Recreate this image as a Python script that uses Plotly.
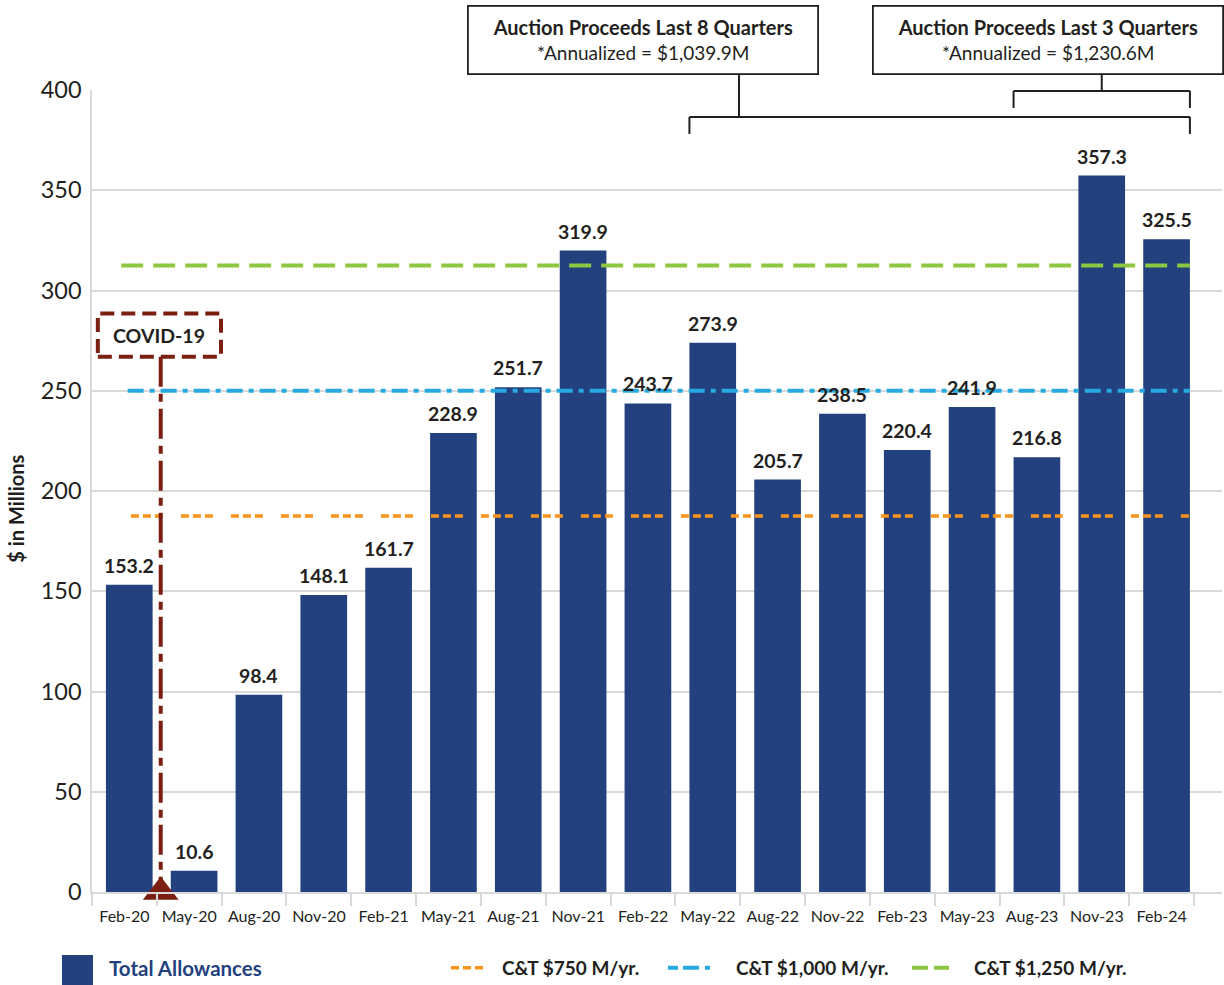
import plotly.graph_objects as go

# Quarterly auction proceeds ($ millions)
quarters = ["Feb-20", "May-20", "Aug-20", "Nov-20", "Feb-21", "May-21", "Aug-21", "Nov-21",
            "Feb-22", "May-22", "Aug-22", "Nov-22", "Feb-23", "May-23", "Aug-23", "Nov-23", "Feb-24"]
proceeds = [153.2, 10.6, 98.4, 148.1, 161.7, 228.9, 251.7, 319.9,
            243.7, 273.9, 205.7, 238.5, 220.4, 241.9, 216.8, 357.3, 325.5]

# Cap-and-trade annual benchmarks, shown as quarterly equivalents
target_labels = ["C&T $750 M/yr.", "C&T $1,000 M/yr.", "C&T $1,250 M/yr."]
annual_targets = [750, 1000, 1250]

y_ticks = [0, 50, 100, 150, 200, 250, 300, 350, 400]

box_titles = ["Auction Proceeds Last 8 Quarters", "Auction Proceeds Last 3 Quarters"]
box_notes = ["*Annualized = $1,039.9M", "*Annualized = $1,230.6M"]
bracket_counts = [8, 3]

FONT = "Lato, 'Open Sans', sans-serif"
INK = "#231f20"
NAVY = "#22417e"
GRID = "#d9d9d9"
COVID_RED = "#7b1f12"
target_colors = ["#f7941d", "#27aae1", "#8dc63f"]
target_dashes = ["8px,4px,8px,4px,8px,18px", "16px,6px,5px,6px", "22px,10px"]
swatch_dashes = ["8px,4px,8px,4px,8px,18px", "10px,5px,16px,6px,5px,20px", "16px,6px"]
target_widths = [3.5, 4, 4]
target_starts = [0.1, 0.05, -0.05]

BAR_W = 0.72
BAR_OFF = -0.285
n = len(quarters)
xs = list(range(n))
bar_right_end = (n - 1) + BAR_OFF + BAR_W

fig = go.Figure()

fig.add_trace(go.Bar(
    x=xs, y=proceeds, width=BAR_W, offset=BAR_OFF,
    marker=dict(color=NAVY, line=dict(width=0)),
    showlegend=False, hoverinfo="skip",
))

for label, val, col, dash, w, x0 in zip(target_labels, annual_targets, target_colors,
                                        target_dashes, target_widths, target_starts):
    q = val / 4
    fig.add_trace(go.Scatter(
        x=[x0, bar_right_end], y=[q, q], mode="lines",
        line=dict(color=col, width=w, dash=dash),
        name=label, showlegend=False, hoverinfo="skip",
    ))

# COVID-19 marker line between Feb-20 and May-20
covid_x = 0.56
covid_box = dict(x0=-0.41, x1=1.49, y0=267, y1=288.5)
fig.add_trace(go.Scatter(
    x=[covid_x, covid_x], y=[covid_box["y0"], 0], mode="lines",
    line=dict(color=COVID_RED, width=4, dash="30px,7px,8px,7px"),
    showlegend=False, hoverinfo="skip",
))
fig.add_trace(go.Scatter(
    x=[covid_x], y=[0], mode="markers",
    marker=dict(symbol="triangle-up", size=31, color=COVID_RED, line=dict(width=0)),
    cliponaxis=False, showlegend=False, hoverinfo="skip",
))

shapes = []
annotations = []

# Value labels above each bar
bar_center_shift = BAR_OFF + BAR_W / 2
for xi, v in zip(xs, proceeds):
    annotations.append(dict(
        x=xi + bar_center_shift, y=v, xref="x", yref="y", yanchor="bottom", yshift=6,
        showarrow=False, text=f"{v:.1f}",
        font=dict(family=FONT, size=19.5, color=INK, weight="bold"),
    ))

shapes.append(dict(type="rect", xref="x", yref="y", **covid_box,
                   line=dict(color=COVID_RED, width=4, dash="14px,7px"),
                   fillcolor="rgba(0,0,0,0)", layer="above"))
annotations.append(dict(x=(covid_box["x0"] + covid_box["x1"]) / 2,
                        y=(covid_box["y0"] + covid_box["y1"]) / 2,
                        xref="x", yref="y", showarrow=False, text="COVID-19",
                        font=dict(family=FONT, size=19.5, color=INK, weight="bold")))

# Brackets above the most recent quarters, with summary boxes
box_centers = [0.4876, 0.8456]
box_bottom = 1.0199
bracket_levels = [0.9664, 0.9988]
bracket_drop = 0.0212
connector_xs = [9.48, None]
line_style = dict(color=INK, width=2)
for title, note, cnt, cx, lvl, conn in zip(box_titles, box_notes, bracket_counts,
                                           box_centers, bracket_levels, connector_xs):
    x0 = (n - cnt) + BAR_OFF
    x1 = bar_right_end
    xc = conn if conn is not None else (x0 + x1) / 2
    shapes += [
        dict(type="line", xref="x", yref="paper", x0=x0, x1=x1, y0=lvl, y1=lvl, line=line_style),
        dict(type="line", xref="x", yref="paper", x0=x0, x1=x0, y0=lvl, y1=lvl - bracket_drop, line=line_style),
        dict(type="line", xref="x", yref="paper", x0=x1, x1=x1, y0=lvl, y1=lvl - bracket_drop, line=line_style),
        dict(type="line", xref="x", yref="paper", x0=xc, x1=xc, y0=box_bottom, y1=lvl, line=line_style),
    ]
    annotations.append(dict(
        xref="paper", yref="paper", x=cx, y=1.0623, xanchor="center", yanchor="middle",
        showarrow=False, width=346, height=64, align="center",
        bordercolor=INK, borderwidth=1.8, borderpad=1, bgcolor="white",
        text=f"<b><span style='font-size:20px'>{title}</span></b><br>{note}",
        font=dict(family=FONT, size=19, color=INK),
    ))

# Legend row
legend_y = -0.0946
shapes.append(dict(type="rect", xref="paper", yref="paper", x0=-0.0266, x1=0.0009,
                   y0=-0.0785, y1=-0.12, fillcolor=NAVY, line=dict(width=0)))
annotations.append(dict(xref="paper", yref="paper", x=0.0133, y=legend_y, xanchor="left",
                        yanchor="middle", showarrow=False, text="Total Allowances",
                        font=dict(family=FONT, size=20.5, color=NAVY, weight="bold")))
swatch_x = [(0.3177, 0.3469, 0.3611), (0.5097, 0.5513, 0.5681), (0.7257, 0.7584, 0.7788)]
for (sx0, sx1, tx), label, col, dash, w in zip(swatch_x, target_labels, target_colors,
                                               swatch_dashes, target_widths):
    shapes.append(dict(type="line", xref="paper", yref="paper", x0=sx0, x1=sx1,
                       y0=legend_y, y1=legend_y, line=dict(color=col, width=w, dash=dash)))
    annotations.append(dict(xref="paper", yref="paper", x=tx, y=legend_y, xanchor="left",
                            yanchor="middle", showarrow=False, text=label,
                            font=dict(family=FONT, size=19, color=INK, weight="bold")))

# Axis title
annotations.append(dict(xref="paper", yref="paper", x=-0.068, y=0.478, textangle=-90,
                        xanchor="center", yanchor="middle",
                        showarrow=False, text="$ in Millions",
                        font=dict(family=FONT, size=20, color=INK, weight="bold")))

fig.update_layout(
    width=1224, height=985,
    margin=dict(l=92, r=2, t=90, b=93),
    paper_bgcolor="white", plot_bgcolor="white",
    font=dict(family=FONT, color=INK),
    shapes=shapes, annotations=annotations,
    xaxis=dict(
        range=[-0.5, 16.93], tickmode="array", tickvals=xs, ticktext=quarters,
        ticks="outside", ticklen=9, tickcolor="rgba(0,0,0,0)",
        tickfont=dict(family=FONT, size=16, color=INK),
        showgrid=False, zeroline=False, showline=True, linecolor=GRID, linewidth=2,
        minor=dict(tickmode="array", tickvals=[i - 0.5 for i in range(n + 1)],
                   ticks="outside", ticklen=12, tickcolor=GRID, tickwidth=1.5, showgrid=False),
        fixedrange=True,
    ),
    yaxis=dict(
        range=[0, 400], tickmode="array", tickvals=y_ticks,
        tickfont=dict(family=FONT, size=23.5, color=INK),
        showgrid=True, gridcolor=GRID, gridwidth=1.5, zeroline=False,
        showline=True, linecolor=GRID, linewidth=1.5, ticks="", ticklabelstandoff=4,
        fixedrange=True,
    ),
)

fig.write_html("out.html")
